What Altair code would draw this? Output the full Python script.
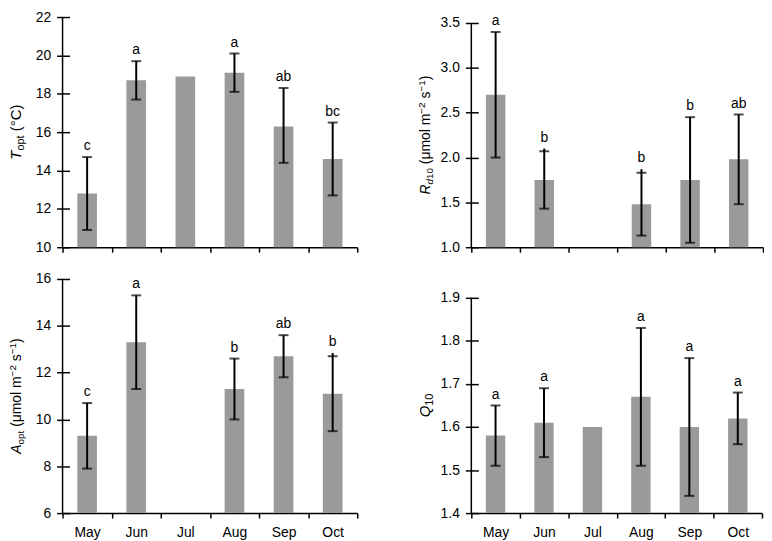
import altair as alt
import pandas as pd

months = ["May", "Jun", "Jul", "Aug", "Sep", "Oct"]

# T_opt (deg C)
topt_mean = [12.8, 18.7, 18.9, 19.1, 16.3, 14.6]
topt_lo = [10.9, 17.7, None, 18.1, 14.4, 12.7]
topt_hi = [14.7, 19.7, None, 20.1, 18.3, 16.5]
topt_top = [14.7, 19.7, None, 20.1, 18.3, 16.5]
topt_letters = ["c", "a", "", "a", "ab", "bc"]

# R_d10
rd10_mean = [2.70, 1.75, None, 1.48, 1.75, 1.98]
rd10_lo = [2.00, 1.43, None, 1.13, 1.05, 1.48]
rd10_hi = [3.40, 2.07, None, 1.83, 2.45, 2.48]
rd10_top = [3.40, 2.10, None, 1.87, 2.45, 2.48]
rd10_letters = ["a", "b", "", "b", "b", "ab"]

# A_opt
aopt_mean = [9.3, 13.3, None, 11.3, 12.7, 11.1]
aopt_lo = [7.9, 11.3, None, 10.0, 11.8, 9.5]
aopt_hi = [10.7, 15.3, None, 12.6, 13.6, 12.7]
aopt_top = [10.7, 15.3, None, 12.6, 13.6, 12.84]
aopt_letters = ["c", "a", "", "b", "ab", "b"]

# Q10
q10_mean = [1.58, 1.61, 1.60, 1.67, 1.60, 1.62]
q10_lo = [1.51, 1.53, None, 1.51, 1.44, 1.56]
q10_hi = [1.65, 1.69, None, 1.83, 1.76, 1.68]
q10_top = [1.65, 1.69, None, 1.83, 1.76, 1.68]
q10_letters = ["a", "a", "", "a", "a", "a"]

topt_ticks = [10, 12, 14, 16, 18, 20, 22]
rd10_ticks = [1.0, 1.5, 2.0, 2.5, 3.0, 3.5]
aopt_ticks = [6, 8, 10, 12, 14, 16]
q10_ticks = [1.4, 1.5, 1.6, 1.7, 1.8, 1.9]

FONT = "Liberation Sans"
BAR = "#9a9a9a"

# approximate Arial / Liberation Sans advance widths (em)
W = {"T": .611, "R": .722, "A": .667, "Q": .778, "d": .556, "o": .556, "p": .556,
     "t": .278, "1": .556, "0": .556, "2": .556, " ": .278, "(": .333,
     ")": .333, "°": .4, "C": .722, "μ": .576, "m": .833, "l": .222, "s": .5, "−": .584}


def text_width(s, size):
    return sum(W.get(c, .556) for c in s) * size


def title_layers(parts, ycenter, xpos):
    """parts: list of (text, fontSize, fontStyle, dy) drawn rotated as one axis title.
    A leading space is not drawn (SVG drops it) but still advances the pen."""
    total = sum(text_width(t, fs) for t, fs, _, _ in parts)
    one = alt.Chart(pd.DataFrame({"k": [0]}))
    layers = []
    off = -total / 2
    for t, fs, style, dy in parts:
        shown = t.lstrip(" ")
        off += text_width(t[:len(t) - len(shown)], fs)
        layers.append(
            one.mark_text(text=shown, angle=270, align="left", baseline="alphabetic",
                          fontSize=fs, fontStyle=style, font=FONT, color="black",
                          dx=off, dy=dy)
            .encode(x=alt.value(xpos), y=alt.value(ycenter))
        )
        off += text_width(shown, fs)
    return layers


def panel(mean, lo, hi, top, letters, domain, ticks, fmt, parts, width, height,
          show_labels, inset=0):
    """inset: pixels left empty above the top of the y axis."""
    df = pd.DataFrame({"month": months, "mean": mean, "lo": lo, "hi": hi,
                       "top": top, "letter": letters})
    x = alt.X("month:N", sort=months,
              scale=alt.Scale(domain=months, paddingInner=0, paddingOuter=0),
              axis=alt.Axis(title=None, labels=show_labels, labelAngle=0,
                            tickBand="extent", tickSize=5, tickWidth=1.5,
                            tickColor="black", domainColor="black", domainWidth=1.5,
                            labelFontSize=14, labelPadding=8, labelColor="black",
                            labelFont=FONT, grid=False))
    yscale = alt.Scale(domain=domain, nice=False, zero=False, range=[height, inset])
    yaxis = alt.Axis(title=None, values=ticks, tickCount=len(ticks), format=fmt,
                     offset=-7, tickSize=13, tickWidth=1.5, tickColor="black",
                     domain=False, labelPadding=6, labelFontSize=14,
                     labelColor="black", labelFont=FONT, grid=False)
    base = alt.Chart(df)
    bars = base.mark_bar(color=BAR, width=alt.RelativeBandSize(0.4)).encode(
        x=x, y=alt.Y("mean:Q", scale=yscale, axis=yaxis), y2=alt.datum(domain[0]))
    whisk = base.mark_rule(color="black", strokeWidth=2).encode(
        x=alt.X("month:N", sort=months), y="lo:Q", y2="top:Q")
    cap_lo = base.mark_tick(color="black", orient="horizontal", size=10, thickness=2).encode(
        x=alt.X("month:N", sort=months), y="lo:Q")
    cap_hi = base.mark_tick(color="black", orient="horizontal", size=10, thickness=2).encode(
        x=alt.X("month:N", sort=months), y="hi:Q")
    lett = base.mark_text(baseline="bottom", dy=-4, fontSize=14, font=FONT,
                          color="black").encode(
        x=alt.X("month:N", sort=months), y="top:Q", text="letter:N")
    one = alt.Chart(pd.DataFrame({"k": [0]}))
    yline = one.mark_rule(color="black", strokeWidth=1.5).encode(
        x=alt.value(0), y=alt.value(inset), y2=alt.value(height))
    layers = [bars, whisk, cap_lo, cap_hi, lett, yline] + \
        title_layers(parts, (height + inset) / 2, -42)
    return alt.layer(*layers).properties(width=width, height=height)


H1, H2 = 232, 236

p_topt = panel(topt_mean, topt_lo, topt_hi, topt_top, topt_letters, [10, 22], topt_ticks, "d",
               [("T", 15, "italic", 0), ("opt", 11, "normal", 3), (" (°C)", 15, "normal", 0)],
               297, H1, False)
p_rd10 = panel(rd10_mean, rd10_lo, rd10_hi, rd10_top, rd10_letters, [1.0, 3.5], rd10_ticks, ".1f",
               [("R", 14, "italic", 0), ("d", 10, "italic", 3), ("10", 10, "normal", 3),
                (" (μmol m", 14, "normal", 0), ("−2", 10, "normal", -5),
                (" s", 14, "normal", 0), ("−1", 10, "normal", -5), (")", 14, "normal", 0)],
               294, H1, False, inset=6)
p_aopt = panel(aopt_mean, aopt_lo, aopt_hi, aopt_top, aopt_letters, [6, 16], aopt_ticks, "d",
               [("A", 14, "italic", 0), ("opt", 10, "normal", 3),
                (" (μmol m", 14, "normal", 0), ("−2", 10, "normal", -5),
                (" s", 14, "normal", 0), ("−1", 10, "normal", -5), (")", 14, "normal", 0)],
               297, H2, True)
p_q10 = panel(q10_mean, q10_lo, q10_hi, q10_top, q10_letters, [1.4, 1.9], q10_ticks, ".1f",
              [("Q", 15, "italic", 0), ("10", 11, "normal", 3)],
              293, H2, True, inset=19)

chart = alt.concat(
    p_topt, p_rd10, p_aopt, p_q10,
    columns=2, spacing={"row": 18, "column": 59},
).properties(padding=0).configure_view(stroke=None)

chart.save("out.html", embed_options={"renderer": "svg", "actions": False})
